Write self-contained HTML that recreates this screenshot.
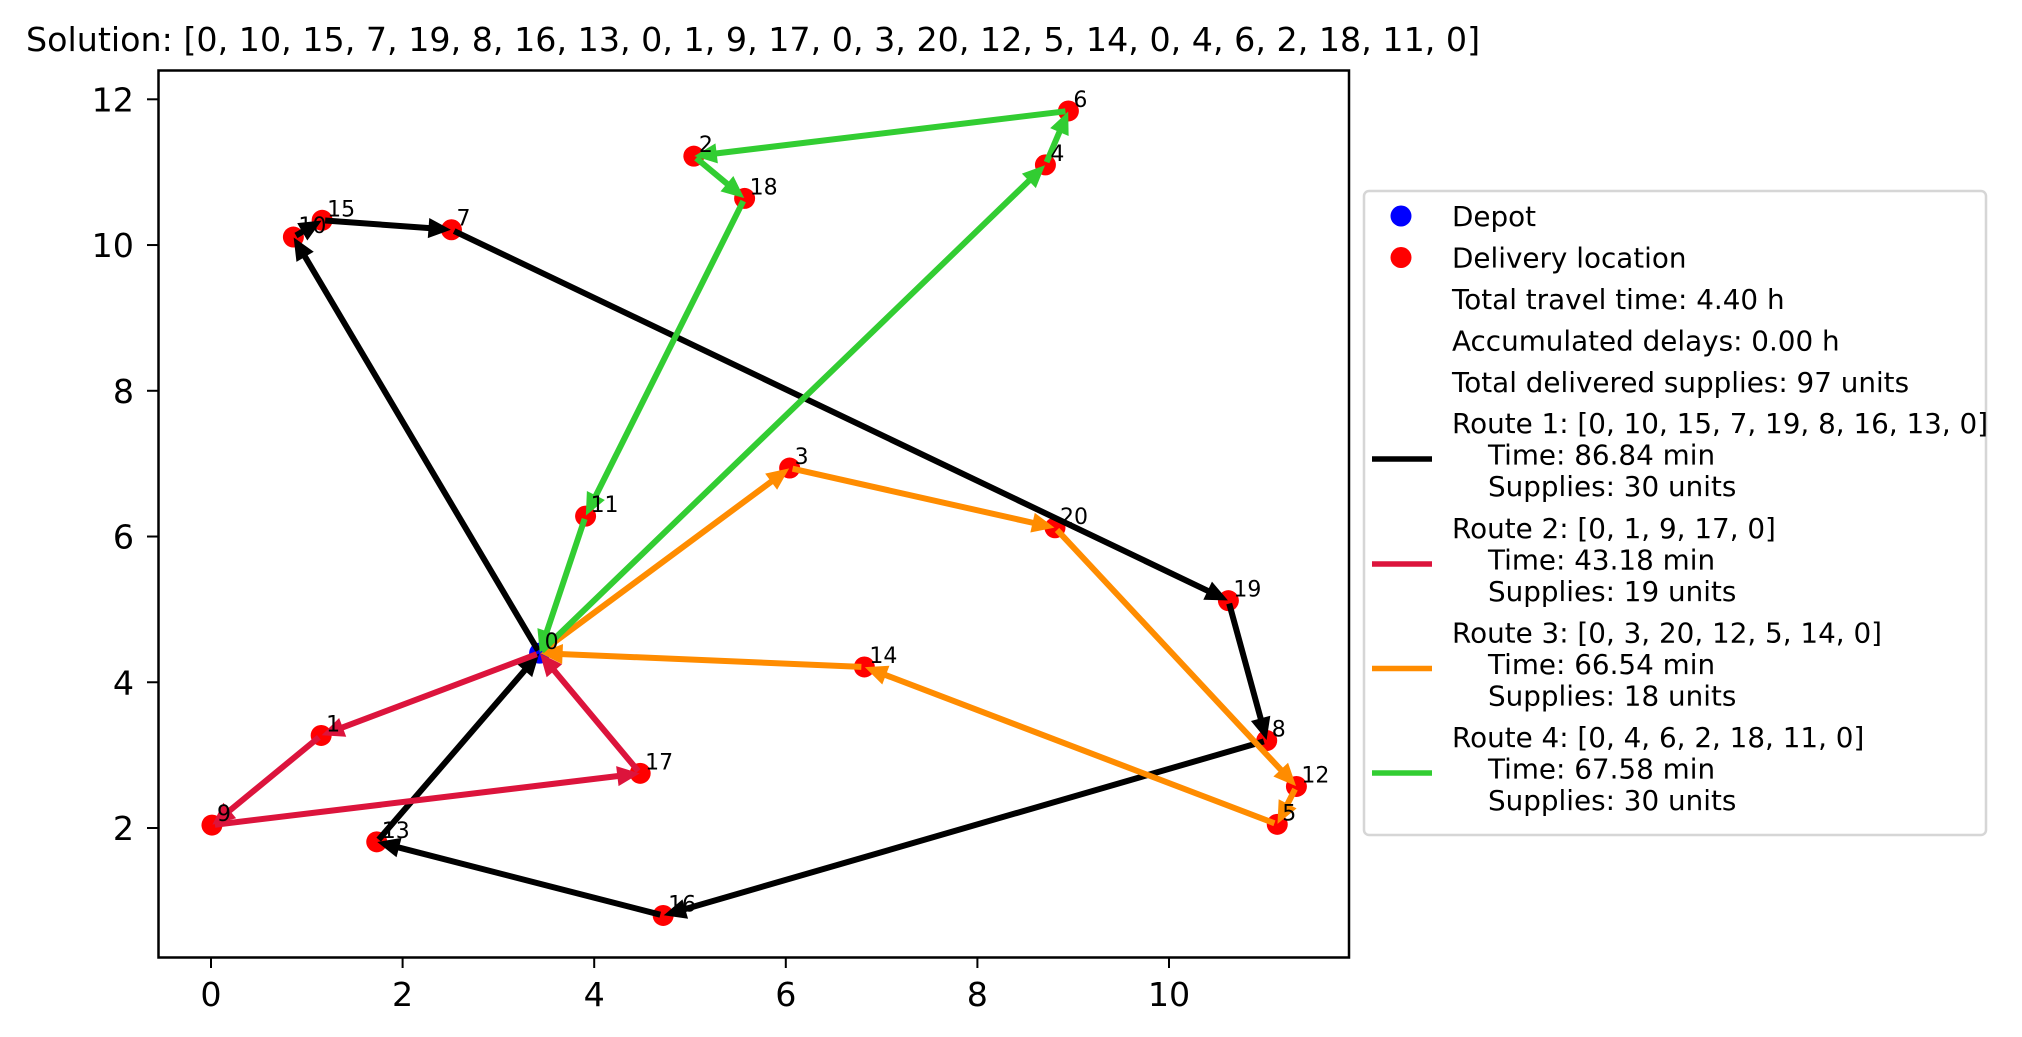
<!DOCTYPE html>
<html><head><meta charset="utf-8"><style>
html,body{margin:0;padding:0;background:#fff;}
svg{display:block;font-family:"DejaVu Sans","Liberation Sans",sans-serif;}
</style></head><body>
<svg id="chart" width="2022" height="1037" viewBox="0 0 2022 1037" xmlns="http://www.w3.org/2000/svg">
<rect x="0" y="0" width="2022" height="1037" fill="#fff"/>
<text id="title" x="26" y="51" font-size="33.3" fill="#000"></text>
<g id="plot"></g>
<rect x="158.5" y="70.5" width="1190.5" height="887" fill="none" stroke="#000" stroke-width="2.5"/>
<g id="xticks"></g>
<g id="yticks"></g>
<g id="legend"></g>
</svg>
<script>
// ---- data ----
const nodeX = [3.43, 1.15, 5.04, 6.04, 8.71, 11.13, 8.95, 2.51, 11.02, 0.01, 0.86, 3.91, 11.33, 1.73, 6.82, 1.16, 4.72, 4.48, 5.57, 10.62, 8.81];
const nodeY = [4.40, 3.27, 11.22, 6.94, 11.10, 2.05, 11.84, 10.21, 3.20, 2.04, 10.11, 6.28, 2.57, 1.81, 4.21, 10.34, 0.80, 2.75, 10.64, 5.12, 6.12];
const route1 = [0, 10, 15, 7, 19, 8, 16, 13, 0];
const route2 = [0, 1, 9, 17, 0];
const route3 = [0, 3, 20, 12, 5, 14, 0];
const route4 = [0, 4, 6, 2, 18, 11, 0];
const routeTimes = [86.84, 43.18, 66.54, 67.58];
const routeSupplies = [30, 19, 18, 30];
const totalTime = 4.40;
const delays = 0.00;
const totalSupplies = 97;
const xTicks = [0, 2, 4, 6, 8, 10];
const yTicks = [2, 4, 6, 8, 10, 12];

const routes = [route1, route2, route3, route4];
const colors = ["#000000", "#DC143C", "#FF8C00", "#32CD32"];
const NS = "http://www.w3.org/2000/svg";
function X(v){ return 211 + v * 95.8; }
function Y(v){ return 828 - (v - 2) * 72.87; }
function mk(tag, attrs, parent){ const e = document.createElementNS(NS, tag); for (const k in attrs) e.setAttribute(k, attrs[k]); parent.appendChild(e); return e; }

// title
const sol = [].concat(route1, route2.slice(1), route3.slice(1), route4.slice(1));
document.getElementById('title').textContent = "Solution: [" + sol.join(", ") + "]";

const plot = document.getElementById('plot');
// scatter
nodeX.forEach((v, i) => {
  const c = mk('circle', {cx: X(v), cy: Y(nodeY[i]), r: 10.5, fill: i === 0 ? '#0000ff' : '#ff0000'}, plot);
  
  
});
// arrows
routes.forEach((r, ri) => {
  const g = mk('g', {}, plot);
  
  
  for (let k = 0; k < r.length - 1; k++) {
    const x1 = X(nodeX[r[k]]), y1 = Y(nodeY[r[k]]);
    const x2 = X(nodeX[r[k+1]]), y2 = Y(nodeY[r[k+1]]);
    const dx = x2 - x1, dy = y2 - y1, L = Math.hypot(dx, dy), ux = dx / L, uy = dy / L;
    const sx = x1 + ux * 3, sy = y1 + uy * 3;
    const tx = x2 - ux * 3, ty = y2 - uy * 3;
    const bx = tx - ux * 19, by = ty - uy * 19;
    const ln = mk('line', {x1: sx, y1: sy, x2: bx + ux * 2, y2: by + uy * 2, stroke: colors[ri], 'stroke-width': 6}, g);
    
    
    const px = -uy, py = ux;
    const hd = mk('polygon', {points: `${tx},${ty} ${bx + px*8.5},${by + py*8.5} ${bx - px*8.5},${by - py*8.5}`, fill: colors[ri], stroke: colors[ri], 'stroke-width': 2, 'stroke-linejoin': 'miter'}, g);
    
    
  }
});
// point labels
nodeX.forEach((v, i) => {
  const t = mk('text', {x: X(v) + 5, y: Y(nodeY[i]) - 4, 'font-size': 22, fill: '#000'}, plot);
  t.textContent = String(i);
  
  
});
// ticks
const xg = document.getElementById('xticks');
xTicks.forEach(v => {
  mk('line', {x1: X(v), y1: 957, x2: X(v), y2: 968, stroke: '#000', 'stroke-width': 2}, xg);
  const t = mk('text', {x: X(v), y: 1006, 'font-size': 33.3, 'text-anchor': 'middle'}, xg);
  t.textContent = v;
  
  
});
const yg = document.getElementById('yticks');
yTicks.forEach(v => {
  mk('line', {x1: 147, y1: Y(v), x2: 158, y2: Y(v), stroke: '#000', 'stroke-width': 2}, yg);
  const t = mk('text', {x: 134, y: Y(v) + 12, 'font-size': 33.3, 'text-anchor': 'end'}, yg);
  t.textContent = v;
  
  
});
// legend
const lg = document.getElementById('legend');
mk('rect', {x: 1364, y: 191, width: 622, height: 644, rx: 5, fill: '#fff', 'fill-opacity': 0.8, stroke: '#d6d6d6', 'stroke-width': 2.5}, lg);
function ltext(s, x, y){ const t = mk('text', {x: x, y: y, 'font-size': 27.8, fill: '#000'}, lg); t.textContent = s;   return t; }
const d = mk('circle', {cx: 1401, cy: 216, r: 10.5, fill: '#0000ff'}, lg);


ltext('Depot', 1452, 226);
const dl = mk('circle', {cx: 1401, cy: 257.5, r: 10.5, fill: '#ff0000'}, lg);


ltext('Delivery location', 1452, 267.5);
ltext('Total travel time: ' + totalTime.toFixed(2) + ' h', 1452, 309);
ltext('Accumulated delays: ' + delays.toFixed(2) + ' h', 1452, 350.5);
ltext('Total delivered supplies: ' + totalSupplies + ' units', 1452, 392);
const starts = [433, 538, 642.5, 747];
routes.forEach((r, ri) => {
  const b = starts[ri];
  ltext('Route ' + (ri + 1) + ': [' + r.join(', ') + ']', 1452, b);
  ltext('Time: ' + routeTimes[ri].toFixed(2) + ' min', 1488, b + 31.5);
  ltext('Supplies: ' + routeSupplies[ri] + ' units', 1488, b + 63);
  const h = mk('line', {x1: 1372, y1: b + 26, x2: 1432, y2: b + 26, stroke: colors[ri], 'stroke-width': 5.5}, lg);
  
  
});
</script>
</body></html>
